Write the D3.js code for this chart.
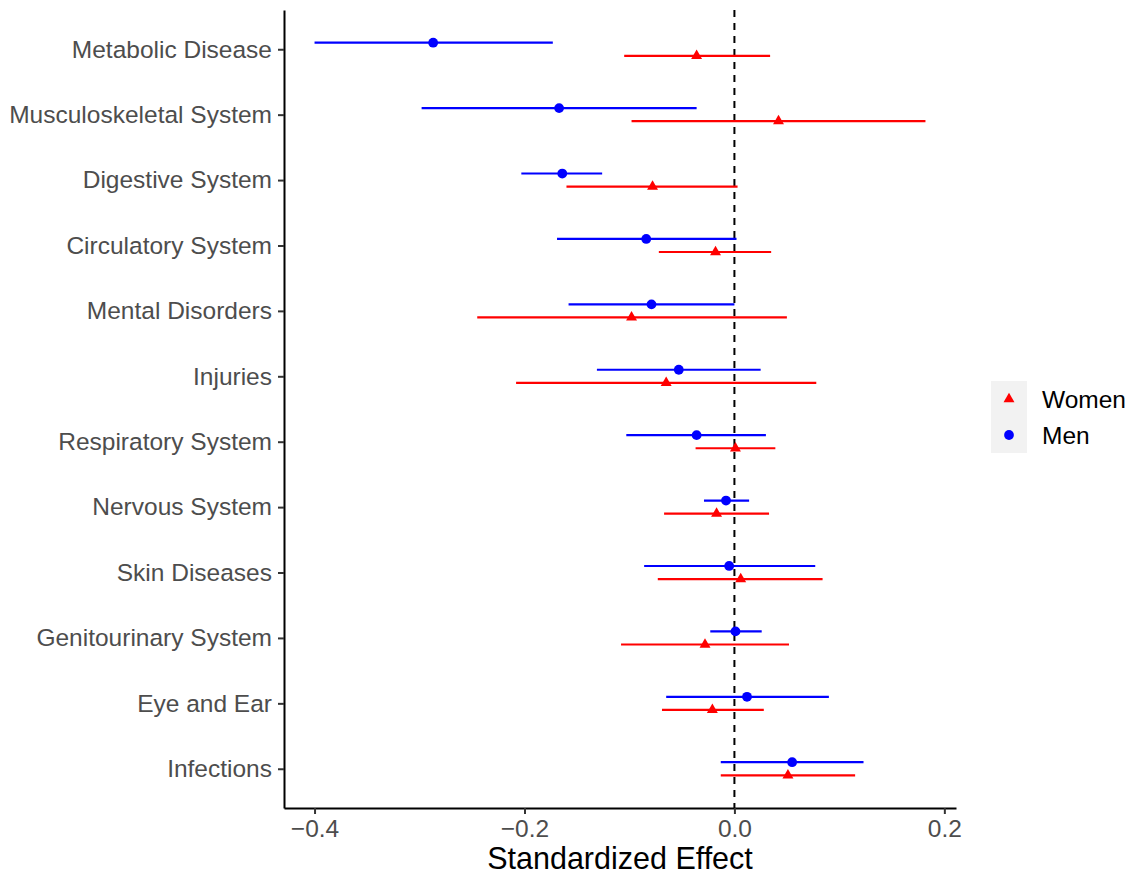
<!DOCTYPE html>
<html>
<head>
<meta charset="utf-8">
<script src="https://d3js.org/d3.v7.min.js"></script>
<style>
  body { margin: 0; background: #fff; }
  svg { font-family: "Liberation Sans", Arial, sans-serif; }
</style>
</head>
<body>
<div id="chart"></div>
<script>
//categories top to bottom
var categories = ["Metabolic Disease", "Musculoskeletal System", "Digestive System",
  "Circulatory System", "Mental Disorders", "Injuries", "Respiratory System",
  "Nervous System", "Skin Diseases", "Genitourinary System", "Eye and Ear", "Infections"];

//men: estimate, lower, upper
var menEst   = [-0.287, -0.167, -0.164, -0.084, -0.079, -0.053, -0.036, -0.008, -0.005,  0.001,  0.012, 0.055];
var menLow   = [-0.400, -0.298, -0.203, -0.169, -0.158, -0.131, -0.103, -0.029, -0.086, -0.023, -0.065, -0.013];
var menHigh  = [-0.173, -0.036, -0.126,  0.002,  0.000,  0.025,  0.030,  0.014,  0.077,  0.026,  0.090, 0.123];

//women: estimate, lower, upper
var womenEst  = [-0.036,  0.042, -0.078, -0.018, -0.098, -0.065,  0.001, -0.017,  0.006, -0.028, -0.021, 0.051];
var womenLow  = [-0.105, -0.098, -0.160, -0.072, -0.245, -0.208, -0.037, -0.067, -0.073, -0.108, -0.069, -0.013];
var womenHigh = [ 0.034,  0.182,  0.003,  0.035,  0.050,  0.078,  0.039,  0.033,  0.084,  0.052,  0.028, 0.115];

var xTicks = [-0.4, -0.2, 0.0, 0.2];

//define chart area
var svgWidth = 1132;
var svgHeight = 876;

var margin = { top: 10, right: 176, bottom: 68, left: 284 };
var width = svgWidth - margin.left - margin.right;
var height = svgHeight - margin.top - margin.bottom;

var svg = d3.select("#chart")
  .append("svg")
  .attr("width", svgWidth)
  .attr("height", svgHeight);

var chartGroup = svg.append("g")
  .attr("transform", `translate(${margin.left}, ${margin.top})`);

//build rows
var rows = [];
categories.forEach(function(c, i) {
  rows.push({ cat: c, group: "Men", est: menEst[i], lo: menLow[i], hi: menHigh[i] });
  rows.push({ cat: c, group: "Women", est: womenEst[i], lo: womenLow[i], hi: womenHigh[i] });
});

//x scale with 5% expansion like ggplot
var xMin = d3.min(rows, d => d.lo);
var xMax = d3.max(rows, d => d.hi);
var pad = (xMax - xMin) * 0.05;
var xLinearScale = d3.scaleLinear()
  .domain([xMin - pad, xMax + pad])
  .range([0, width]);

var yScale = d3.scalePoint()
  .domain(categories)
  .range([0, height])
  .padding(0.6);

var dodge = yScale.step() * 0.1;
var colors = { Men: "#0000ff", Women: "#ff0000" };
function rowY(d) {
  return yScale(d.cat) + (d.group === "Men" ? -dodge : dodge);
}

//reference line at zero
chartGroup.append("line")
  .attr("x1", xLinearScale(0))
  .attr("x2", xLinearScale(0))
  .attr("y1", 0)
  .attr("y2", height)
  .attr("stroke", "#000")
  .attr("stroke-width", 2)
  .attr("stroke-dasharray", "7,6");

//error bars
chartGroup.selectAll(".bar")
  .data(rows)
  .enter()
  .append("line")
  .attr("x1", d => xLinearScale(d.lo))
  .attr("x2", d => xLinearScale(d.hi))
  .attr("y1", rowY)
  .attr("y2", rowY)
  .attr("stroke", d => colors[d.group])
  .attr("stroke-width", 2.2);

//points
chartGroup.selectAll(".pt")
  .data(rows)
  .enter()
  .append("path")
  .attr("transform", d => `translate(${xLinearScale(d.est)}, ${rowY(d)})`)
  .attr("d", d => d.group === "Men"
    ? d3.symbol().type(d3.symbolCircle).size(75)()
    : d3.symbol().type(d3.symbolTriangle).size(52)())
  .attr("fill", d => colors[d.group]);

//axes
var bottomAxis = d3.axisBottom(xLinearScale)
  .tickValues(xTicks)
  .tickSizeInner(6)
  .tickSizeOuter(0)
  .tickPadding(6)
  .tickFormat(d3.format(".1f"));
var leftAxis = d3.axisLeft(yScale)
  .tickSizeInner(6)
  .tickSizeOuter(0)
  .tickPadding(6);

var xAxis = chartGroup.append("g")
  .attr("transform", `translate(0, ${height})`)
  .call(bottomAxis);

var yAxis = chartGroup.append("g")
  .call(leftAxis);

[xAxis, yAxis].forEach(function(ax) {
  ax.select(".domain").attr("stroke", "#000").attr("stroke-width", 2);
  ax.selectAll(".tick line").attr("stroke", "#333").attr("stroke-width", 2);
  ax.selectAll(".tick text")
    .attr("fill", "#4d4d4d")
    .attr("font-size", "24.5px")
    .attr("font-family", "'Liberation Sans', Arial, sans-serif");
});

//axis title
svg.append("text")
  .attr("x", margin.left + width / 2)
  .attr("y", 869)
  .attr("text-anchor", "middle")
  .attr("font-size", "30.5px")
  .attr("fill", "#000")
  .text("Standardized Effect");

//legend
var legendGroups = ["Women", "Men"];
var legend = svg.append("g")
  .attr("transform", "translate(991, 381)");

legend.selectAll(".key")
  .data(legendGroups)
  .enter()
  .append("rect")
  .attr("x", 0)
  .attr("y", (d, i) => i * 36)
  .attr("width", 36)
  .attr("height", 36)
  .attr("fill", "#f2f2f2");

legend.selectAll(".sym")
  .data(legendGroups)
  .enter()
  .append("path")
  .attr("transform", (d, i) => `translate(18, ${i * 36 + 18})`)
  .attr("d", d => d === "Men"
    ? d3.symbol().type(d3.symbolCircle).size(75)()
    : d3.symbol().type(d3.symbolTriangle).size(52)())
  .attr("fill", d => colors[d]);

legend.selectAll(".lab")
  .data(legendGroups)
  .enter()
  .append("text")
  .attr("x", 51)
  .attr("y", (d, i) => i * 36 + 18)
  .attr("dy", "0.35em")
  .attr("font-size", "24.5px")
  .attr("fill", "#000")
  .text(d => d);
</script>
</body>
</html>
